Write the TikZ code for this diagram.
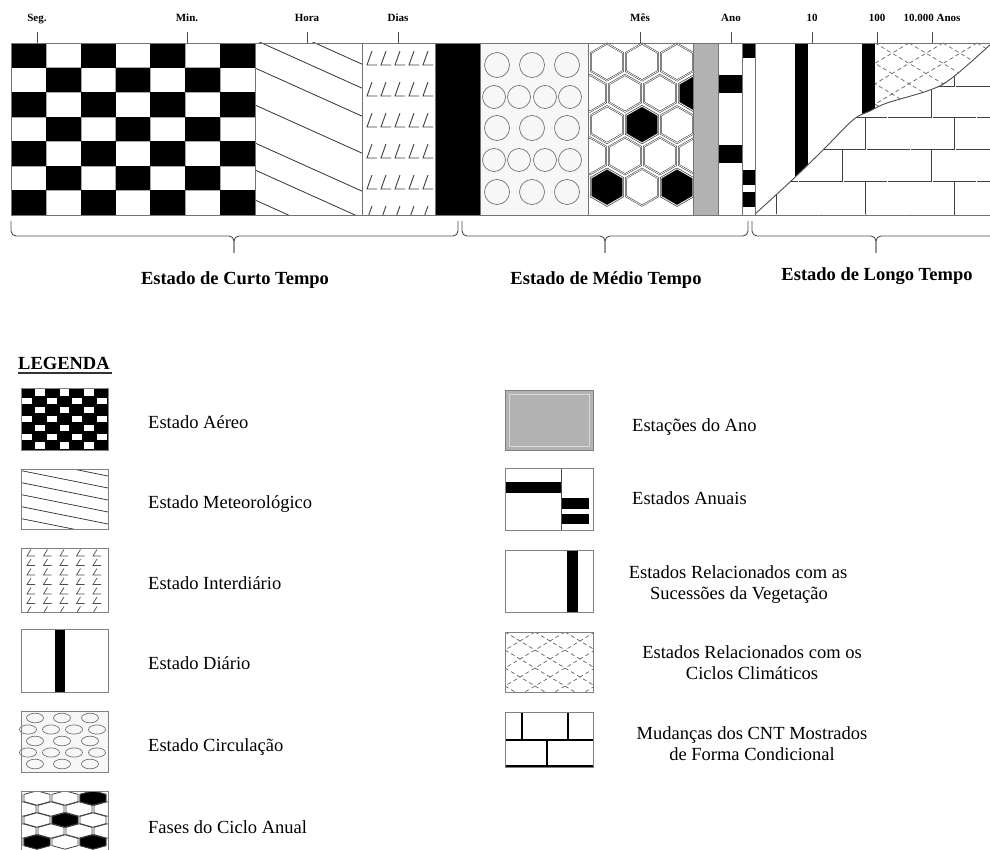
\documentclass[tikz,border=0pt]{standalone}
\usepackage{fontspec}
\setmainfont{Liberation Serif}
\begin{document}
\begin{tikzpicture}[x=1pt,y=-1pt,
  txt/.style={font=\fontsize{18.5}{21}\selectfont, inner sep=0pt},
  btxt/.style={font=\fontsize{18.5}{21}\selectfont\bfseries, inner sep=0pt},
  ttxt/.style={font=\fontsize{11}{12}\selectfont\bfseries, inner sep=0pt},
  sepline/.style={draw=black!55, line width=0.8pt},
  swatch/.style={draw=black!50, line width=0.9pt},
  dline/.style={draw=black!75, double=white, double distance=0.7pt, line width=0.55pt},
  hatch/.style={draw=black!60, line width=0.7pt, dash pattern=on 4pt off 3pt},
  tickline/.style={draw=black!70, line width=0.9pt},
  bracepath/.style={draw=black!70, line width=0.9pt, rounded corners=5pt},
  hexa/.pic={\path[pic actions] (0,-20) -- (17.32,-10) -- (17.32,10) -- (0,20) -- (-17.32,10) -- (-17.32,-10) -- cycle;},
  ell/.style={draw=black!55, line width=0.7pt},
  lmark/.style={draw=black!75, line width=0.9pt},
]
\useasboundingbox (0,0) rectangle (990,850);

% ---------- Estado Aereo (checkerboard)
\foreach \i in {1,...,6}{
  \draw[black!35, line width=0.4pt] ({11+\i*34.857},43) -- ++(0,172);
  \draw[black!35, line width=0.4pt] (11,{43+\i*24.571}) -- ++(244,0);
}
\foreach \i in {0,...,6}{
  \foreach \j in {0,...,6}{
    \pgfmathtruncatemacro\p{mod(\i+\j,2)}
    \ifnum\p=0
      \fill[black] ({11+\i*34.857},{43+\j*24.571}) rectangle ++(34.857,24.571);
    \fi
  }
}

% ---------- Meteorologico
\begin{scope}
\clip (255,43) rectangle (362,215);
\foreach \y in {16,40,68,105,143,170,200}{
  \draw[black!80, line width=0.8pt] (250,{\y-2.25}) -- (370,{\y+51.75});
}
\end{scope}

% ---------- Interdiario
\begin{scope}
\clip (362,43) rectangle (435,215);
\foreach \c in {0,...,4}{
  \foreach \r in {0,...,5}{
    \draw[lmark] ({372+14*\c},{51+31*\r}) -- ({367+14*\c},{65+31*\r}) -- ({377+14*\c},{65+31*\r});
  }
}
\end{scope}

% ---------- Diario
\fill[black] (435,43) rectangle (480,215);

% ---------- Circulacao
\fill[black!3] (480,43) rectangle (588,215);
\foreach \x in {497,532,567}{
  \draw[ell] (\x,65) circle[radius=12.5];
  \draw[ell] (\x,128) circle[radius=12.5];
  \draw[ell] (\x,192) circle[radius=12.5];
}
\foreach \x in {494,519,545,570}{
  \draw[ell] (\x,97) circle[radius=11.5];
  \draw[ell] (\x,160) circle[radius=11.5];
}

% ---------- Fases do ciclo anual (hexagons)
\begin{scope}
\clip (588,43) rectangle (693,215);
\foreach \k in {0,2,4}{
  \foreach \cx in {607,642,677}{
    \pic[dline, fill=white, scale=0.92] at (\cx,{62+31.3*\k}) {hexa};
  }
}
\foreach \k in {1,3}{
  \foreach \cx in {590,625,660,695}{
    \pic[dline, fill=white, scale=0.92] at (\cx,{62+31.3*\k}) {hexa};
  }
}
\foreach \cx/\k in {695/1,642/2,607/4,677/4}{
  \pic[dline, fill=black, scale=0.92] at (\cx,{62+31.3*\k}) {hexa};
}
\end{scope}

% ---------- Estacoes do ano
\fill[black!30] (693,43) rectangle (718,215);

% ---------- Estados anuais
\fill[black] (718,75) rectangle (742,93);
\fill[black] (718,145) rectangle (742,163);
\fill[black] (742,43) rectangle (755,58);
\fill[black] (742,170) rectangle (755,185);
\fill[black] (742,192) rectangle (755,207);

% ---------- Longo tempo
\fill[black] (795,43) rectangle (808,200);
\fill[black] (862,43) rectangle (875,130);
\begin{scope}
\clip (875,43) rectangle (991,215);
\foreach \i in {-7,...,9}{
  \draw[hatch] ({875+34*\i},43) -- ++(200,120);
  \draw[hatch] ({875+34*\i},43) -- ++(-200,120);
}
\end{scope}
\begin{scope}
\clip plot[smooth,tension=0.6] coordinates {(755,214) (790,182) (823,150) (853,120) (870,111) (887,103) (930,90) (952,78) (991,44)} -- (991,215) -- cycle;
\fill[white] (750,40) rectangle (995,220);
\foreach \y in {87,118,150,182}{
  \draw[dline] (750,\y) -- (995,\y);
}
\foreach \x in {777,821.5,866,910.5,955}{
  \draw[dline] (\x,182) -- (\x,215);
  \draw[dline] (\x,118) -- (\x,150);
  \draw[dline] (\x,43) -- (\x,87);
}
\foreach \x in {798.5,843,887.5,932,976.5}{
  \draw[dline] (\x,150) -- (\x,182);
  \draw[dline] (\x,87) -- (\x,118);
}
\end{scope}
\draw[black!70, line width=0.9pt] plot[smooth,tension=0.6] coordinates {(755,214) (790,182) (823,150) (853,120) (870,111) (887,103) (930,90) (952,78) (991,44)};

% ---------- band outline and separators
\draw[sepline] (11,43) rectangle (991,215);
\foreach \x in {255,362,435,480,588,693,718,742,755}{
  \draw[sepline] (\x,43) -- (\x,215);
}

% ---------- ticks and labels
\foreach \x/\n/\t in {37/seg/Seg., 187/min/Min., 307/hora/Hora, 398/dias/Dias, 640/mes/Mês, 731/ano/Ano, 812/dez/10, 877/cem/100, 932/dezmil/10.000 Anos}{
  \draw[tickline] (\x,32) -- (\x,43);
  \node[ttxt, anchor=base] (\n) at (\x,21.5) {\t};
}

% ---------- braces
\draw[bracepath] (11,221) -- (11,236) -- (234,236) -- (234,253);
\draw[bracepath] (458,221) -- (458,236) -- (234,236) -- (234,253);
\draw[bracepath] (462,221) -- (462,236) -- (605,236) -- (605,253);
\draw[bracepath] (748,221) -- (748,236) -- (605,236) -- (605,253);
\draw[bracepath] (752,221) -- (752,236) -- (876,236) -- (876,253);
\draw[bracepath] (998,221) -- (998,236) -- (876,236) -- (876,253);

\node[btxt, anchor=base] (curto) at (235,284.5) {Estado de Curto Tempo};
\node[btxt, anchor=base] (medio) at (606,284.5) {Estado de Médio Tempo};
\node[btxt, anchor=base] (longo) at (877,280) {Estado de Longo Tempo};

% ---------- legend
\node[btxt, anchor=base west] (legenda) at (18,369) {LEGENDA};
\draw[black!80, line width=1.4pt] (18,373) -- (112,373);

% Aereo
\fill[black] (21,388) rectangle (108,450);
\foreach \i in {0,...,6}{
  \foreach \j in {0,...,6}{
    \pgfmathtruncatemacro\p{mod(\i+\j,2)}
    \ifnum\p=1
      \fill[white] ({22.3+\i*12.43},{389.3+\j*8.857}) rectangle ++(9.8,6.2);
    \fi
  }
}
\draw[swatch] (21,388) rectangle (108,450);
\node[txt, anchor=base west] (aereo) at (148,428) {Estado Aéreo};

% Meteorologico
\begin{scope}
\clip (21,469) rectangle (108,529);
\foreach \y in {458,470,482,494,506,518,530}{
  \draw[black!80, line width=0.75pt] (18,\y) -- (112,{\y+18.8});
}
\end{scope}
\draw[swatch] (21,469) rectangle (108,529);
\node[txt, anchor=base west] (meteo) at (148,508) {Estado Meteorológico};

% Interdiario
\begin{scope}
\clip (21,548) rectangle (108,612);
\foreach \c in {0,...,4}{
  \foreach \r in {0,...,6}{
    \draw[black!70, line width=0.7pt] ({31+16.5*\c},{549.5+9.5*\r}) -- ({27+16.5*\c},{556+9.5*\r}) -- ({35+16.5*\c},{556+9.5*\r});
  }
}
\end{scope}
\draw[swatch] (21,548) rectangle (108,612);
\node[txt, anchor=base west] (inter) at (148,589) {Estado Interdiário};

% Diario
\fill[black] (55,629) rectangle (65,692);
\draw[swatch] (21,629) rectangle (108,692);
\node[txt, anchor=base west] (diario) at (148,669) {Estado Diário};

% Circulacao
\fill[black!3] (21,711) rectangle (108,772);
\foreach \y in {718,741,764}{
  \foreach \x in {35,62,90}{
    \draw[ell] (\x,\y) ellipse[x radius=8.5, y radius=4.8];
  }
}
\foreach \y in {729.5,752.5}{
  \foreach \x in {28,51,74,97}{
    \draw[ell] (\x,\y) ellipse[x radius=8.5, y radius=4.6];
  }
}
\draw[swatch] (21,711) rectangle (108,772);
\node[txt, anchor=base west] (circ) at (148,751) {Estado Circulação};

% Fases
\begin{scope}
\clip (21,791) rectangle (108,852);
\foreach \k in {0,2,4}{
  \foreach \cx in {9,37,65,93}{
    \pic[draw=black!75, line width=0.8pt, fill=white, xscale=0.75, yscale=0.36] at (\cx,{798+11*\k}) {hexa};
  }
}
\foreach \k in {1,3}{
  \foreach \cx in {23,51,79,107}{
    \pic[draw=black!75, line width=0.8pt, fill=white, xscale=0.75, yscale=0.36] at (\cx,{798+11*\k}) {hexa};
  }
}
\foreach \cx/\k in {93/0,65/2,37/4,93/4}{
  \pic[draw=black!75, line width=0.8pt, fill=black, xscale=0.75, yscale=0.36] at (\cx,{798+11*\k}) {hexa};
}
\end{scope}
\draw[swatch] (21,791) rectangle (108,852);
\node[txt, anchor=base west] (fases) at (148,833) {Fases do Ciclo Anual};

% Estacoes do ano
\fill[black!30] (505,390) rectangle (593,450);
\draw[black!15, line width=0.6pt] (509,394) rectangle (589,446);
\draw[swatch] (505,390) rectangle (593,450);
\node[txt, anchor=base west] (estacoes) at (632,431) {Estações do Ano};

% Estados anuais
\fill[black] (505,482) rectangle (561,493);
\fill[black] (561,498) rectangle (589,509);
\fill[black] (561,514) rectangle (589,524);
\draw[black!70, line width=0.7pt] (561,468) -- (561,530);
\draw[swatch] (505,468) rectangle (593,530);
\node[txt, anchor=base west] (anuais) at (632,504) {Estados Anuais};

% Vegetacao
\fill[black] (567,550) rectangle (578,612);
\draw[swatch] (505,550) rectangle (593,612);
\node[txt, anchor=base] (veg1) at (738,578) {Estados Relacionados com as};
\node[txt, anchor=base] (veg2) at (739,599) {Sucessões da Vegetação};

% Climaticos
\begin{scope}
\clip (505,632) rectangle (593,692);
\foreach \i in {-6,...,8}{
  \draw[hatch] ({505+30*\i},632) -- ++(150,90);
  \draw[hatch] ({505+30*\i},632) -- ++(-150,90);
}
\end{scope}
\draw[swatch] (505,632) rectangle (593,692);
\node[txt, anchor=base] (cli1) at (752,658) {Estados Relacionados com os};
\node[txt, anchor=base] (cli2) at (752,679) {Ciclos Climáticos};

% Mudancas
\draw[black, line width=2.5pt] (505,740) -- (593,740);
\draw[black, line width=2.5pt] (505,766) -- (593,766);
\draw[black, line width=2.5pt] (522,712) -- (522,740);
\draw[black, line width=2.5pt] (568,712) -- (568,740);
\draw[black, line width=2.5pt] (547,740) -- (547,766);
\draw[swatch] (505,712) rectangle (593,767);
\node[txt, anchor=base] (mud1) at (752,739) {Mudanças dos CNT Mostrados};
\node[txt, anchor=base] (mud2) at (752,760) {de Forma Condicional};

\end{tikzpicture}
\end{document}
